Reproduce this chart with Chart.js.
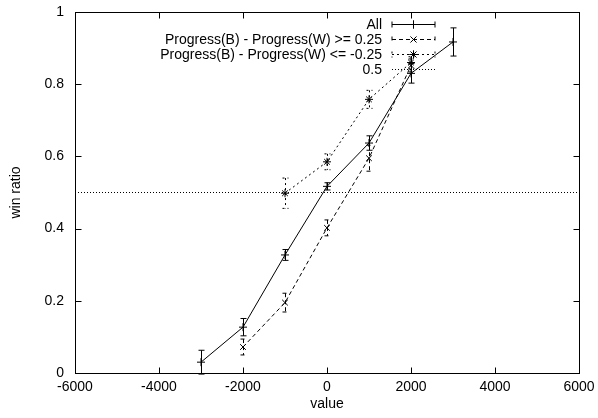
<!DOCTYPE html>
<html lang="en">
<head>
  <meta charset="UTF-8">
  <title>win ratio</title>
  <script src="https://cdn.jsdelivr.net/npm/chart.js@4.4.1/dist/chart.umd.min.js"></script>
  <style>
    body { margin: 0; padding: 0; background: #fff; }
    canvas { display: block; }
  </style>
</head>
<body>
  <canvas id="winChart" width="598" height="418"></canvas>

  <script>
  // data
  const xAll = [-3000, -2000, -1000, 0, 1000, 2000, 3000];
  const yAll = [0.030, 0.127, 0.327, 0.517, 0.637, 0.830, 0.917];
  const eAll = [0.033, 0.024, 0.015, 0.010, 0.020, 0.027, 0.039];

  const xPos = [-2000, -1000, 0, 1000, 2000];
  const yPos = [0.072, 0.195, 0.402, 0.595, 0.852];
  const ePos = [0.022, 0.026, 0.022, 0.036, 0.018];

  const xNeg = [-1000, 0, 1000, 2000];
  const yNeg = [0.498, 0.585, 0.758, 0.860];
  const eNeg = [0.042, 0.022, 0.025, 0.016];

  const refLevel = 0.5;

  const xTickValues = [-6000, -4000, -2000, 0, 2000, 4000, 6000];
  const yTickValues = [0, 0.2, 0.4, 0.6, 0.8, 1];

  const seriesLabels = ['All', 'Progress(B) - Progress(W) >= 0.25', 'Progress(B) - Progress(W) <= -0.25', '0.5'];

  const FONT = '"Liberation Sans", Arial, sans-serif';
  const FSIZE = 14;

  function points(xs, ys) {
    return xs.map((x, i) => ({ x: x, y: ys[i] }));
  }

  const styles = [
    { dash: [], point: 'cross', caps: true },
    { dash: [4, 3], point: 'crossRot', caps: true },
    { dash: [2, 3], point: 'star', caps: true },
    { dash: [1, 2], point: false, caps: false }
  ];
  const errors = [eAll, ePos, eNeg, null];

  // error bars, frame with inward ticks, gnuplot style key
  const gnuplotLook = {
    id: 'gnuplotLook',
    afterDatasetsDraw(chart) {
      const ctx = chart.ctx;
      const xs = chart.scales.x, ys = chart.scales.y;
      ctx.save();
      ctx.strokeStyle = '#000';
      ctx.lineWidth = 1;
      chart.data.datasets.forEach((ds, di) => {
        const err = errors[di];
        if (!err) return;
        ctx.setLineDash(styles[di].dash);
        ds.data.forEach((p, i) => {
          const px = Math.round(xs.getPixelForValue(p.x)) + 0.5;
          const top = ys.getPixelForValue(p.y + err[i]);
          const bot = ys.getPixelForValue(p.y - err[i]);
          ctx.beginPath();
          ctx.moveTo(px, top); ctx.lineTo(px, bot);
          ctx.moveTo(px - 3, top); ctx.lineTo(px + 3, top);
          ctx.moveTo(px - 3, bot); ctx.lineTo(px + 3, bot);
          ctx.stroke();
        });
      });
      ctx.restore();
    },
    afterDraw(chart) {
      const ctx = chart.ctx;
      const a = chart.chartArea;
      const xs = chart.scales.x, ys = chart.scales.y;
      ctx.save();
      ctx.strokeStyle = '#000';
      ctx.lineWidth = 1;
      ctx.setLineDash([]);
      const L = Math.round(a.left) + 0.5, R = Math.round(a.right) + 0.5;
      const T = Math.round(a.top) + 0.5, B = Math.round(a.bottom) + 0.5;
      ctx.strokeRect(L, T, R - L, B - T);
      ctx.beginPath();
      xTickValues.forEach(v => {
        const px = Math.round(xs.getPixelForValue(v)) + 0.5;
        ctx.moveTo(px, B); ctx.lineTo(px, B - 6);
        ctx.moveTo(px, T); ctx.lineTo(px, T + 6);
      });
      yTickValues.forEach(v => {
        const py = Math.round(ys.getPixelForValue(v)) + 0.5;
        ctx.moveTo(L, py); ctx.lineTo(L + 6, py);
        ctx.moveTo(R, py); ctx.lineTo(R - 6, py);
      });
      ctx.stroke();

      // key
      const textRight = 382, x0 = 392, x1 = 435, xm = 413.5;
      ctx.font = FSIZE + 'px ' + FONT;
      ctx.fillStyle = '#000';
      ctx.textAlign = 'right';
      ctx.textBaseline = 'middle';
      seriesLabels.forEach((label, i) => {
        const y = 24.5 + 15 * i;
        const st = styles[i];
        ctx.fillText(label, textRight, y + 1);
        ctx.setLineDash(st.dash);
        ctx.beginPath();
        ctx.moveTo(x0, y); ctx.lineTo(x1, y);
        if (st.caps) {
          ctx.moveTo(x0, y - 3); ctx.lineTo(x0, y + 3);
          ctx.moveTo(x1, y - 3); ctx.lineTo(x1, y + 3);
        }
        ctx.stroke();
        ctx.setLineDash([]);
        if (st.point) {
          Chart.helpers.drawPoint(ctx, {
            pointStyle: st.point, radius: 4, borderWidth: 1, rotation: 0
          }, xm, y);
          ctx.stroke();
        }
      });
      ctx.restore();
    }
  };

  function lineSet(label, data, i) {
    return {
      label: label,
      data: data,
      showLine: true,
      tension: 0,
      borderColor: '#000',
      backgroundColor: '#000',
      borderWidth: 1,
      borderDash: styles[i].dash,
      pointStyle: styles[i].point || 'circle',
      pointRadius: styles[i].point ? 4 : 0,
      pointBorderWidth: 1,
      pointBorderColor: '#000',
      pointBackgroundColor: '#000'
    };
  }

  const ctx = document.getElementById('winChart').getContext('2d');
  new Chart(ctx, {
    type: 'scatter',
    data: {
      datasets: [
        lineSet(seriesLabels[0], points(xAll, yAll), 0),
        lineSet(seriesLabels[1], points(xPos, yPos), 1),
        lineSet(seriesLabels[2], points(xNeg, yNeg), 2),
        lineSet(seriesLabels[3], [
          { x: xTickValues[0], y: refLevel },
          { x: xTickValues[xTickValues.length - 1], y: refLevel }
        ], 3)
      ]
    },
    options: {
      responsive: false,
      animation: false,
      devicePixelRatio: 1,
      layout: { padding: { top: 12, right: 19, left: 0, bottom: 0 } },
      plugins: {
        legend: { display: false },
        tooltip: { enabled: false }
      },
      scales: {
        x: {
          type: 'linear',
          min: -6000,
          max: 6000,
          afterBuildTicks: s => { s.ticks = xTickValues.map(v => ({ value: v })); },
          afterFit: s => { s.height = 45; s.paddingLeft = 0; s.paddingRight = 0; },
          grid: { display: false, drawTicks: false },
          border: { display: false },
          ticks: {
            color: '#000',
            padding: 6,
            maxRotation: 0,
            font: { family: FONT, size: FSIZE },
            callback: v => String(v)
          },
          title: {
            display: true,
            text: 'value',
            color: '#000',
            padding: { top: 0, bottom: 5 },
            font: { family: FONT, size: FSIZE }
          }
        },
        y: {
          min: 0,
          max: 1,
          afterBuildTicks: s => { s.ticks = yTickValues.map(v => ({ value: v })); },
          afterFit: s => { s.width = 75; s.paddingTop = 0; s.paddingBottom = 0; },
          grid: { display: false, drawTicks: false },
          border: { display: false },
          ticks: {
            color: '#000',
            padding: 11,
            font: { family: FONT, size: FSIZE },
            callback: v => String(Math.round(v * 10) / 10)
          },
          title: {
            display: true,
            text: 'win ratio',
            color: '#000',
            padding: { top: 8, bottom: 0 },
            font: { family: FONT, size: FSIZE }
          }
        }
      }
    },
    plugins: [gnuplotLook]
  });
  </script>
</body>
</html>
